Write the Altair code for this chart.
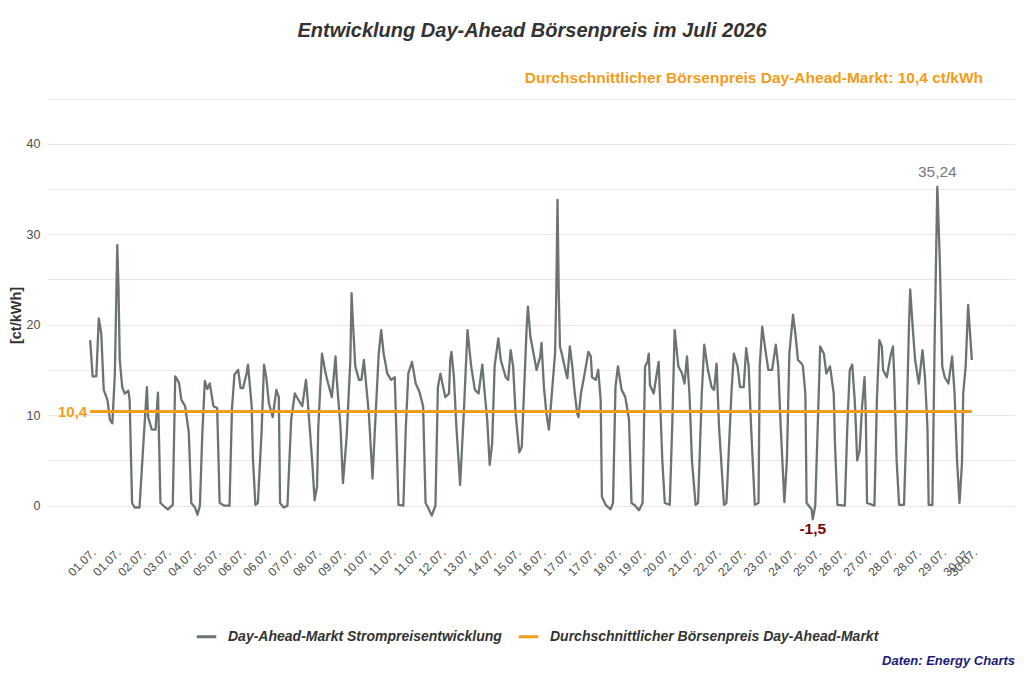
import altair as alt
import pandas as pd

# ---- data ----
hours = [0, 2, 5, 7, 9, 11, 14, 16, 18, 20, 22, 23, 24, 26, 28, 31, 32, 34, 36, 40,
         43, 46, 47, 50, 53, 55, 57, 61, 63, 67, 69, 72, 74, 77, 80, 82, 85, 87, 89, 91,
         93, 95, 97, 100, 103, 105, 109, 113, 115, 117, 120, 122, 124, 127, 128, 131, 132, 134, 136, 139,
         141, 143, 145, 148, 151, 153, 154, 157, 160, 163, 166, 168, 172, 175, 176, 178, 180, 182, 184, 185,
         188, 191, 193, 196, 199, 200, 203, 205, 208, 211, 212, 213, 215, 218, 220, 222, 224, 226, 229, 231,
         234, 236, 238, 241, 244, 247, 249, 250, 254, 256, 258, 261, 264, 267, 270, 272, 274, 277, 280, 282,
         284, 288, 291, 292, 293, 295, 297, 300, 303, 306, 309, 312, 315, 318, 320, 322, 324, 326, 328, 331,
         333, 337, 339, 341, 343, 345, 348, 350, 352, 354, 355, 357, 360, 362, 365, 366, 368, 370, 372, 374,
         377, 378, 379, 380, 381, 383, 386, 387, 389, 391, 393, 395, 396, 398, 401, 404, 406, 407, 410, 412,
         414, 415, 418, 422, 424, 426, 428, 431, 434, 437, 439, 442, 445, 448, 450, 452, 453, 454, 457, 461,
         462, 464, 466, 470, 472, 474, 477, 480, 482, 484, 486, 488, 491, 493, 496, 498, 501, 504, 506, 508,
         510, 514, 516, 520, 522, 525, 527, 530, 532, 534, 536, 539, 542, 543, 545, 548, 550, 553, 556, 558,
         560, 563, 565, 567, 570, 572, 574, 577, 578, 580, 581, 585, 586, 588, 590, 592, 595, 597, 600, 603,
         604, 606, 612, 614, 616, 618, 620, 621, 622, 624, 626, 628, 629, 630, 636, 638, 640, 642, 643, 646,
         649, 651, 652, 654, 656, 660, 662, 664, 665, 667, 669, 672, 675, 677, 679, 680, 683, 685, 687, 689,
         691, 693, 696, 699, 701, 703, 705, 707, 708, 710, 712, 715]
prices = [18.3, 14.3, 14.3, 20.7, 19.0, 12.8, 11.7, 9.5, 9.1, 14.5, 28.8, 24.0, 16.1, 13.1, 12.4, 12.7, 11.7, 0.3, -0.2, -0.2,
          6.5, 13.1, 9.8, 8.4, 8.4, 12.5, 0.3, -0.2, -0.4, 0.1, 14.3, 13.6, 11.7, 11.0, 8.1, 0.3, -0.2, -1.0, 0.0, 8.1,
          13.8, 12.9, 13.5, 11.0, 10.8, 0.3, 0.0, 0.0, 10.7, 14.5, 15.0, 13.0, 13.0, 14.7, 15.6, 11.0, 5.2, 0.1, 0.3, 8.1,
          15.6, 14.0, 11.3, 9.8, 12.8, 12.0, 0.3, -0.2, 0.0, 9.5, 12.4, 11.9, 11.0, 13.9, 12.4, 8.7, 5.0, 0.6, 2.1, 8.7,
          16.8, 14.6, 13.5, 12.0, 16.5, 13.9, 8.7, 2.5, 7.6, 16.1, 23.5, 20.5, 15.4, 13.9, 13.9, 16.1, 13.1, 10.2, 3.0, 8.7,
          16.8, 19.4, 16.8, 14.6, 13.9, 14.2, 5.0, 0.1, 0.0, 8.7, 14.6, 15.9, 13.5, 12.6, 11.0, 0.3, -0.2, -1.1, 0.0, 13.1,
          14.6, 12.0, 12.4, 16.1, 17.0, 14.2, 8.7, 2.3, 10.2, 19.4, 15.4, 12.8, 12.4, 15.6, 12.4, 9.5, 4.5, 6.9, 15.4, 18.5,
          16.1, 14.2, 13.9, 17.2, 15.4, 10.2, 5.9, 6.5, 13.1, 19.8, 22.0, 18.7, 16.5, 15.0, 16.5, 18.0, 13.1, 10.2, 8.4, 11.7,
          16.8, 23.5, 33.8, 23.5, 17.6, 16.5, 14.6, 14.1, 17.6, 15.4, 12.4, 10.2, 9.8, 12.4, 14.6, 17.0, 16.5, 14.2, 13.9, 15.0,
          11.7, 1.0, 0.1, -0.4, 0.3, 13.1, 15.4, 12.8, 12.0, 9.5, 0.3, 0.0, -0.5, 0.3, 15.4, 15.9, 16.8, 13.3, 12.4, 15.9,
          12.4, 5.0, 0.3, 0.1, 8.7, 19.4, 15.4, 14.6, 13.5, 16.5, 12.4, 5.0, 0.1, 0.3, 12.4, 17.8, 15.0, 13.1, 12.8, 15.7,
          8.7, 0.1, 0.3, 12.4, 16.8, 15.4, 13.1, 13.1, 17.4, 15.4, 8.7, 0.1, 0.3, 15.4, 19.8, 16.8, 15.0, 15.0, 17.8, 15.4,
          8.7, 0.4, 5.0, 16.8, 21.1, 18.9, 16.1, 15.7, 15.4, 12.4, 0.3, -0.4, -1.5, 0.0, 8.7, 17.6, 16.8, 14.6, 15.4, 12.4,
          6.9, 0.1, 0.0, 8.7, 15.0, 15.6, 11.7, 8.7, 5.0, 6.1, 11.0, 14.2, 10.2, 0.3, 0.0, 11.7, 18.3, 17.6, 15.0, 14.2,
          16.5, 17.6, 14.6, 5.0, 0.1, 0.1, 8.7, 19.8, 23.9, 19.8, 16.1, 13.5, 17.2, 14.2, 8.7, 0.1, 0.1, 19.8, 35.24, 27.3,
          15.4, 14.2, 13.5, 16.5, 12.4, 5.0, 0.3, 4.7, 12.4, 15.4, 22.2, 16.1]

avg_value = 10.4
series_names = ["Day-Ahead-Markt Strompreisentwicklung",
                "Durchschnittlicher Börsenpreis Day-Ahead-Markt"]
series_colors = ["#6b7474", "#F39C1A"]

title_text = "Entwicklung Day-Ahead Börsenpreis im Juli 2026"
subtitle_text = "Durchschnittlicher Börsenpreis Day-Ahead-Markt: 10,4 ct/kWh"
caption_text = "Daten: Energy Charts"
y_title = "[ct/kWh]"

FONT = "Liberation Sans"

df = pd.DataFrame({"t": hours, "price": prices, "series": series_names[0]})
df_avg = pd.DataFrame({"t": [hours[0], hours[-1]], "price": [avg_value, avg_value],
                       "series": series_names[1]})

imax = df["price"].idxmax()
imin = df["price"].idxmin()
df_max = pd.DataFrame({"t": [df.t[imax]], "price": [df.price[imax]],
                       "lab": [f"{df.price[imax]:.2f}".replace(".", ",")]})
df_min = pd.DataFrame({"t": [df.t[imin]], "price": [df.price[imin]],
                       "lab": [f"{df.price[imin]:.1f}".replace(".", ",")]})
df_avglab = pd.DataFrame({"t": [hours[0]], "price": [avg_value],
                          "lab": [f"{avg_value:.1f}".replace(".", ",")]})

# x tick positions (hours) and their date labels
tick_vals = [round(i * 20.28, 2) for i in range(36)] + [hours[-1]]
tick_labels = [f"{int(v // 24) + 1:02d}.07." for v in tick_vals]
df_ticks = pd.DataFrame({"t": tick_vals, "lab": tick_labels})

W, H = 968, 442

xscale = alt.Scale(domain=[-35, 750], nice=False, zero=False)
yscale = alt.Scale(domain=[-3.35, 45.5], nice=False, zero=False)

xaxis = alt.Axis(labels=False, grid=False, ticks=False, domain=False, title=None)
yaxis = alt.Axis(values=[0, 5, 10, 15, 20, 25, 30, 35, 40, 45],
                 labelExpr="datum.value % 10 == 0 ? datum.label : ''",
                 grid=True, gridColor="#e8e8e8", gridWidth=1,
                 ticks=False, domain=False, title=y_title,
                 titleFontSize=14.5, titleFontWeight="bold", titleColor="#333333", titleFont=FONT,
                 titlePadding=3, labelPadding=7, labelFontSize=12.5, labelColor="#4d4d4d", labelFont=FONT)

X = alt.X("t:Q", scale=xscale, axis=xaxis)
Y = alt.Y("price:Q", scale=yscale, axis=yaxis)

color = alt.Color("series:N",
                  scale=alt.Scale(domain=series_names, range=series_colors),
                  legend=alt.Legend(orient="none", legendX=148, legendY=531, direction="horizontal",
                                    columns=2, title=None, symbolType="stroke", symbolSize=380,
                                    symbolStrokeWidth=3, labelFontSize=14, labelFontStyle="italic",
                                    labelFontWeight="bold", labelColor="#333333", labelFont=FONT,
                                    labelLimit=0, labelOffset=10, columnPadding=10, padding=0))

base_line = alt.Chart(df).mark_line(strokeWidth=2.3, strokeJoin="round").encode(x=X, y=Y, color=color)
avg_line = alt.Chart(df_avg).mark_line(strokeWidth=3).encode(x=X, y=Y, color=color)

max_lab = alt.Chart(df_max).mark_text(font=FONT, fontSize=15.5, color="#7a7a7a",
                                      baseline="bottom", dy=-7).encode(x=X, y=Y, text="lab:N")
min_lab = alt.Chart(df_min).mark_text(font=FONT, fontSize=15.5, fontWeight="bold", color="#7f0000",
                                      baseline="top", dy=3).encode(x=X, y=Y, text="lab:N")
avg_lab = alt.Chart(df_avglab).mark_text(font=FONT, fontSize=15, fontWeight="bold", color="#F39C1A",
                                         align="right", baseline="middle", dx=-3).encode(x=X, y=Y, text="lab:N")

x_labels = alt.Chart(df_ticks).mark_text(font=FONT, fontSize=12, color="#4d4d4d", angle=315,
                                         align="right", baseline="top").encode(
    x=X, y=alt.value(H + 11), text="lab:N")

title_mark = alt.Chart(pd.DataFrame({"s": [title_text]})).mark_text(
    font=FONT, fontSize=20, fontWeight="bold", fontStyle="italic", color="#333333",
    align="center", baseline="middle").encode(x=alt.value(485), y=alt.value(-63), text="s:N")
subtitle_mark = alt.Chart(pd.DataFrame({"s": [subtitle_text]})).mark_text(
    font=FONT, fontSize=15.5, fontWeight="bold", color="#F39C1A",
    align="right", baseline="middle").encode(x=alt.value(936), y=alt.value(-16), text="s:N")
caption_mark = alt.Chart(pd.DataFrame({"s": [caption_text]})).mark_text(
    font=FONT, fontSize=13, fontWeight="bold", fontStyle="italic", color="#1c1c78",
    align="right", baseline="middle").encode(x=alt.value(968), y=alt.value(567), text="s:N")

chart = alt.layer(base_line, avg_line, max_lab, min_lab, avg_lab, x_labels,
                  title_mark, subtitle_mark, caption_mark).properties(
    width=W, height=H,
    autosize=alt.AutoSizeParams(type="none"),
    padding={"left": 39, "top": 86, "right": 0, "bottom": 134},
).configure_view(stroke=None)

chart.save("out.html", embed_options={"renderer": "svg", "actions": False})
